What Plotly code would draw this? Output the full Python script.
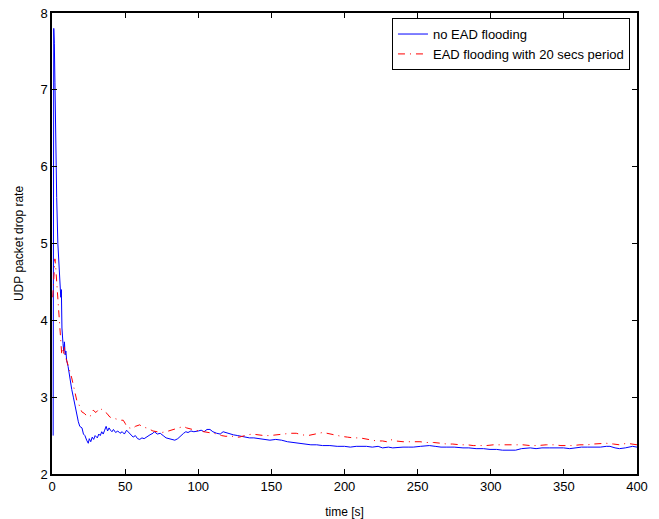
import plotly.graph_objects as go

blue_t = [0.8, 1.2, 1.6, 2.0, 2.4, 3.2, 4.0, 5.0, 5.5, 6.0, 6.4, 6.8, 7.5, 8.0, 8.5, 9.0, 9.5, 10.0, 11.0, 12.3,
          13.5, 14.6, 15.5, 16.9, 18.0, 19.0, 20.5, 21.5, 22.5, 23.7, 24.8, 25.5, 26.5, 27.5, 28.5, 29.5, 31, 32, 33, 34,
          35, 36, 37, 38, 39, 40, 41, 42, 43.5, 45, 46.5, 48, 49.5, 51, 52.5, 54, 55.5, 57, 58.5, 60,
          61.5, 63, 65, 67, 69, 70, 72, 74, 76, 78, 80, 82, 84, 86, 88, 90, 91.5, 93, 95, 97,
          100, 102, 104, 106, 108, 110, 112.6, 115, 117, 119, 121, 124, 127, 130, 133, 135, 138, 141, 145, 149,
          153, 157, 161, 165, 169.6, 173, 177, 181, 185, 190, 195, 200, 204, 208, 212, 215, 219, 223, 226, 230,
          233, 237, 240, 244, 247, 252, 258, 262, 266, 270, 275, 281, 285, 290, 295, 299.5, 304, 308, 313, 317,
          321, 327, 331, 335, 340, 345, 349.7, 354, 358, 362, 366, 370, 375, 379, 381.5, 385, 388, 392, 397, 400]
blue_v = [2.5, 7.8, 7.6, 7.1, 6.3, 5.6, 5.0, 4.65, 4.5, 4.3, 4.4, 3.9, 3.7, 3.6, 3.72, 3.55, 3.6, 3.48, 3.4, 3.22,
          3.1, 3.0, 2.92, 2.75, 2.68, 2.62, 2.6, 2.52, 2.5, 2.44, 2.4, 2.46, 2.42, 2.48, 2.45, 2.5, 2.47, 2.52, 2.5, 2.55,
          2.52, 2.57, 2.62, 2.56, 2.6, 2.57, 2.55, 2.58, 2.54, 2.56, 2.53, 2.55, 2.52, 2.57, 2.54, 2.5, 2.48, 2.5, 2.46, 2.45,
          2.47, 2.46, 2.49, 2.51, 2.53, 2.55, 2.52, 2.53, 2.5, 2.47, 2.46, 2.45, 2.44, 2.46, 2.5, 2.53, 2.55, 2.54, 2.56, 2.55,
          2.56, 2.57, 2.55, 2.58, 2.58, 2.55, 2.53, 2.52, 2.55, 2.54, 2.52, 2.51, 2.5, 2.49, 2.48, 2.47, 2.47, 2.46, 2.45, 2.44,
          2.45, 2.44, 2.42, 2.41, 2.4, 2.39, 2.38, 2.38, 2.37, 2.37, 2.36, 2.36, 2.35, 2.36, 2.36, 2.36, 2.35, 2.36, 2.34, 2.35,
          2.34, 2.35, 2.35, 2.35, 2.35, 2.36, 2.37, 2.36, 2.35, 2.35, 2.35, 2.34, 2.34, 2.33, 2.33, 2.32, 2.32, 2.31, 2.31, 2.31,
          2.33, 2.34, 2.33, 2.34, 2.34, 2.34, 2.34, 2.33, 2.34, 2.35, 2.35, 2.35, 2.35, 2.36, 2.36, 2.34, 2.33, 2.34, 2.36, 2.35]

red_t = [0.5, 1.0, 1.5, 2.0, 2.5, 3.0, 3.6, 4.3, 5.0, 5.5, 6.0, 6.6, 7.2, 7.8, 8.5, 9.2, 10, 11, 12.3, 13.5,
         14.6, 15.5, 16.9, 18.5, 20.3, 22, 23.5, 24.8, 26.5, 28.2, 30, 31.5, 32.8, 34.5, 36, 37.5, 39.6, 41, 43, 45,
         47, 48.7, 50, 51, 53, 55, 57, 59, 60, 62, 64.7, 67, 69, 72, 75, 78, 81, 84, 87, 90,
         92, 95, 98, 101, 104, 107, 110, 113, 116, 119, 122, 125, 128, 131, 134, 137, 141, 145, 149, 153,
         156, 160, 163, 167, 171, 175, 179, 182, 185, 188, 190, 194, 198, 202, 206, 210.6, 214, 218, 222, 226,
         228.9, 231, 235, 240, 245, 251.6, 256, 261, 266, 270, 274, 279, 284, 288, 292.6, 297, 302, 307, 312, 317.7,
         322, 327, 332, 338, 343, 348, 352, 356, 361, 366, 370, 375, 379, 384, 388, 393, 397, 400]
red_v = [4.3, 4.45, 4.6, 4.8, 4.7, 4.55, 4.35, 4.18, 3.9, 3.79, 3.6, 3.57, 3.62, 3.55, 3.65, 3.52, 3.48, 3.4, 3.33, 3.25,
         3.14, 3.1, 2.96, 2.9, 2.81, 2.79, 2.76, 2.74, 2.76, 2.83, 2.8, 2.84, 2.86, 2.83, 2.81, 2.79, 2.74, 2.73, 2.72, 2.71,
         2.7, 2.7, 2.66, 2.62, 2.6, 2.59, 2.62, 2.64, 2.64, 2.61, 2.6, 2.58, 2.56, 2.55, 2.54, 2.55, 2.57, 2.58, 2.6, 2.62,
         2.6, 2.58, 2.57, 2.56, 2.55, 2.54, 2.53, 2.52, 2.5, 2.49, 2.5, 2.48, 2.48, 2.5, 2.51, 2.52, 2.51, 2.5, 2.5, 2.51,
         2.51, 2.52, 2.53, 2.53, 2.51, 2.5, 2.52, 2.53, 2.54, 2.53, 2.52, 2.5, 2.49, 2.48, 2.47, 2.47, 2.46, 2.45, 2.43, 2.43,
         2.42, 2.45, 2.43, 2.42, 2.42, 2.42, 2.41, 2.41, 2.4, 2.39, 2.39, 2.38, 2.38, 2.37, 2.37, 2.37, 2.38, 2.38, 2.38, 2.38,
         2.38, 2.37, 2.37, 2.38, 2.38, 2.37, 2.37, 2.37, 2.38, 2.38, 2.39, 2.4, 2.4, 2.39, 2.38, 2.4, 2.39, 2.38]

x_ticks = [0, 50, 100, 150, 200, 250, 300, 350, 400]
y_ticks = [2, 3, 4, 5, 6, 7, 8]

FONT = "Liberation Sans, Arial, Helvetica, sans-serif"

fig = go.Figure()
fig.add_trace(go.Scatter(x=blue_t, y=blue_v, mode="lines", name="no EAD flooding",
                         line=dict(color="#0000ff", width=1)))
fig.add_trace(go.Scatter(x=red_t, y=red_v, mode="lines", name="EAD flooding with 20 secs period",
                         line=dict(color="#ff0000", width=1, dash="7px,5px,1px,5px")))

axis_common = dict(showgrid=False, zeroline=False, showline=True, linecolor="black", linewidth=1.5,
                   mirror="allticks", ticks="inside", ticklen=5, tickcolor="black", tickwidth=1,
                   automargin=False,
                   tickfont=dict(family=FONT, size=13, color="black"))

fig.update_layout(
    width=659, height=519,
    margin=dict(l=52, r=22, t=13, b=45),
    paper_bgcolor="white", plot_bgcolor="white",
    font=dict(family=FONT, size=12, color="black"),
    showlegend=True,
    legend=dict(x=0.988, y=0.989, xanchor="right", yanchor="top", bordercolor="black", borderwidth=1,
                bgcolor="white", font=dict(family=FONT, size=13), tracegroupgap=0, itemwidth=30),
    xaxis=dict(range=[0, 400], tickvals=x_ticks, title=dict(text="time [s]", standoff=18,
               font=dict(family=FONT, size=12)), **axis_common),
    yaxis=dict(range=[2, 8], tickvals=y_ticks, title=dict(text="UDP packet drop rate", standoff=14,
               font=dict(family=FONT, size=12)), **axis_common),
)

fig.write_html("out.html")
